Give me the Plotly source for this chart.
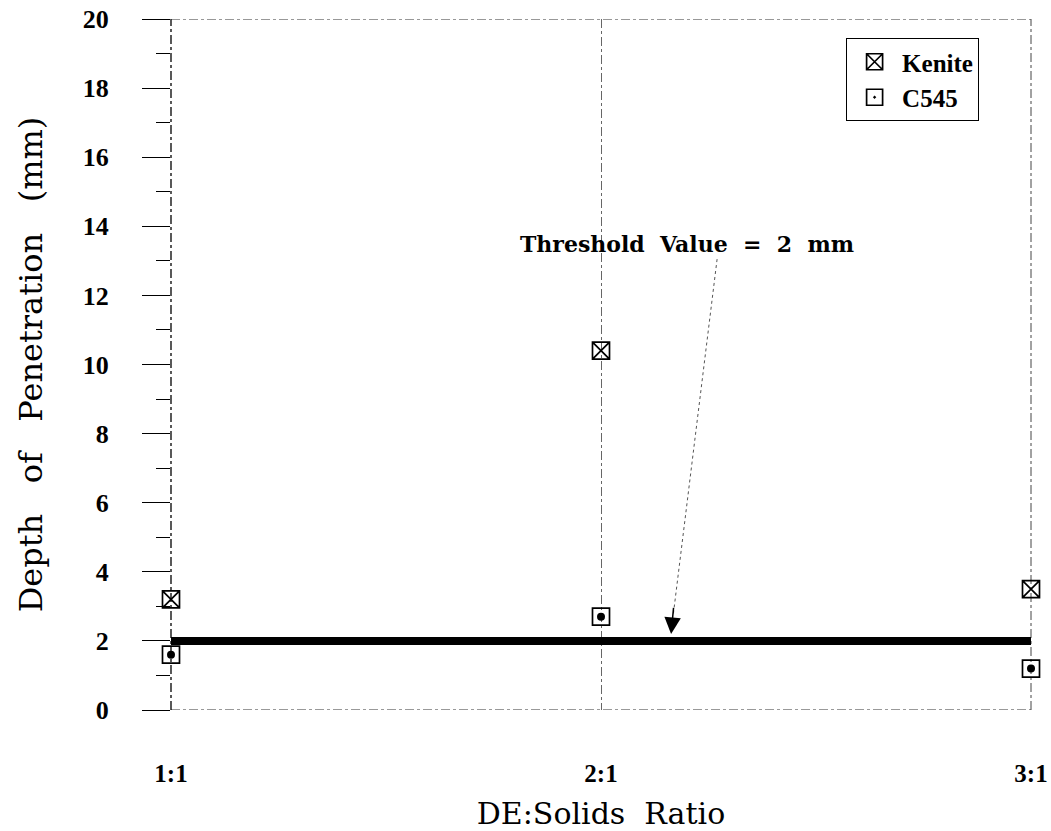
import plotly.graph_objects as go

ratios = ["1:1", "2:1", "3:1"]
ratio_x = [1, 2, 3]
kenite = [3.2, 10.4, 3.5]
c545 = [1.6, 2.7, 1.2]
threshold = 2.0
y_ticks = [0, 2, 4, 6, 8, 10, 12, 14, 16, 18, 20]

SERIF = "DejaVu Serif"
TICKF = "Liberation Serif"

fig = go.Figure()

# threshold line
fig.add_trace(go.Scatter(x=[ratio_x[0], ratio_x[-1]], y=[threshold, threshold], mode="lines",
                         line=dict(color="black", width=8), showlegend=False, hoverinfo="skip"))

fig.add_trace(go.Scatter(x=ratio_x, y=kenite, mode="markers", name="Kenite",
                         marker=dict(symbol="square-x-open", size=17, color="black",
                                     line=dict(width=1.7, color="black")),
                         cliponaxis=False))
fig.add_trace(go.Scatter(x=ratio_x, y=c545, mode="markers", name="C545",
                         marker=dict(symbol="square-open-dot", size=17, color="black",
                                     line=dict(width=1.7, color="black")),
                         cliponaxis=False))
fig.add_trace(go.Scatter(x=ratio_x, y=c545, mode="markers", showlegend=False,
                         marker=dict(symbol="circle", size=8, color="black"),
                         cliponaxis=False, hoverinfo="skip"))

# dotted leader line and arrowhead
fig.add_shape(type="line", x0=2.27, y0=13.05, x1=2.168, y1=2.75,
              line=dict(color="#555", width=1, dash="dot"))
fig.add_annotation(x=2.163, y=2.2, ax=2.169, ay=3.0, axref="x", ayref="y",
                   xref="x", yref="y", text="", showarrow=True,
                   arrowhead=2, arrowsize=2.2, arrowwidth=1.5, arrowcolor="black")
fig.add_annotation(x=2.2, y=13.5, xref="x", yref="y", showarrow=False,
                   text="Threshold\u00a0\u00a0Value\u00a0\u00a0=\u00a0\u00a02\u00a0\u00a0mm",
                   font=dict(family=SERIF, size=22, color="black", weight="bold"))

# frame lines (dash-dot)
for yv in (0, 20):
    fig.add_shape(type="line", xref="paper", x0=0, x1=1, yref="y", y0=yv, y1=yv,
                  line=dict(color="#333", width=1, dash="dashdot"), layer="below")
fig.add_shape(type="line", xref="paper", x0=0, x1=0, yref="paper", y0=0, y1=1,
              line=dict(color="black", width=1.3, dash="dashdot"), layer="below")
fig.add_shape(type="line", xref="paper", x0=1, x1=1, yref="paper", y0=0, y1=1,
              line=dict(color="#444", width=1, dash="dashdot"), layer="below")

fig.update_layout(
    width=1051, height=831,
    margin=dict(l=171, r=20, t=19, b=121),
    plot_bgcolor="white", paper_bgcolor="white",
    font=dict(family=SERIF, color="black"),
    legend=dict(x=0.785, y=0.9725, xanchor="left", yanchor="top",
                bordercolor="black", borderwidth=1, bgcolor="white",
                font=dict(family=TICKF, size=25, color="black", weight="bold"),
                itemwidth=45),
    xaxis=dict(range=[1, 3], tickvals=ratio_x, ticktext=ratios, automargin=False,
               showgrid=True, griddash="dashdot", gridcolor="#666", gridwidth=1,
               zeroline=False, showline=False, ticks="", ticklabelstandoff=46,
               tickfont=dict(family=TICKF, size=25, weight="bold"),
               title=dict(text="DE:Solids\u00a0\u00a0Ratio", standoff=24,
                          font=dict(family=SERIF, size=30))),
    yaxis=dict(range=[0, 20], tickvals=y_ticks, showgrid=False, zeroline=False,
               showline=False, ticks="outside", ticklen=28, tickwidth=1.3, tickcolor="black",
               automargin=False,
               minor=dict(dtick=1, ticks="outside", ticklen=14, tickcolor="black", tickwidth=1.2),
               ticklabelstandoff=28,
               tickfont=dict(family=TICKF, size=26, weight="bold"),
               title=dict(text="Depth\u00a0\u00a0\u00a0of\u00a0\u00a0\u00a0Penetration\u00a0\u00a0\u00a0(mm)",
                          standoff=30, font=dict(family=SERIF, size=32))),
)

fig.write_html("out.html", config={"displayModeBar": False},
               post_script="document.body.style.margin='0';")
